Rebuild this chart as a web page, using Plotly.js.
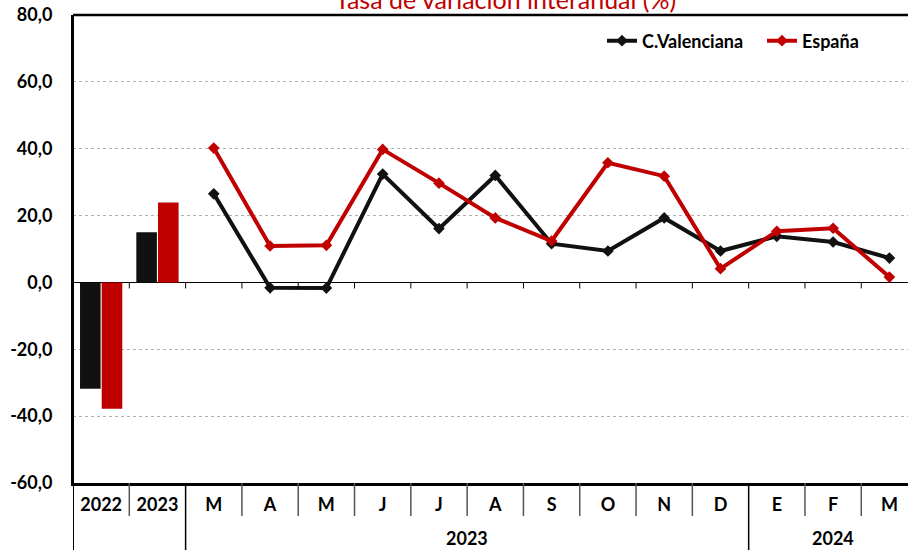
<!DOCTYPE html>
<html>
<head>
<meta charset="utf-8">
<script src="https://cdn.plot.ly/plotly-3.0.1.min.js"></script>
<style>html,body{margin:0;padding:0;background:#fff;}#chart{width:908px;height:554px;}</style>
</head>
<body>
<div id="chart"></div>
<script>
// Categories
const categories = ["2022","2023","M","A","M","J","J","A","S","O","N","D","E","F","M"];
// Annual bars (2022, 2023)
const barCategories = ["2022","2023"];
const barCV = [-31.8, 15.0];
const barES = [-37.8, 23.9];
// Monthly lines (M 2023 .. M 2024)
const monthCV = [26.5, -1.6, -1.7, 32.4, 16.1, 32.0, 11.6, 9.4, 19.3, 9.4, 13.8, 12.1, 7.3];
const monthES = [40.2, 10.9, 11.1, 39.8, 29.7, 19.3, 12.4, 35.8, 31.8, 4.1, 15.3, 16.2, 1.6];
// Year groups for the second row of the axis
const yearLabels = ["2023", "2024"];
const yearStart = [2, 12];
const yearEnd = [11, 14];
const yTicks = [-60, -40, -20, 0, 20, 40, 60, 80];
const yTickText = ["-60,0", "-40,0", "-20,0", "0,0", "20,0", "40,0", "60,0", "80,0"];

const seriesNames = ["C.Valenciana", "España"];
const colCV = "#111111", colES = "#c00000";
const FONT = "Lato, 'Open Sans', sans-serif";

const idx = categories.map((c, i) => i);
const barX = barCategories.map(c => categories.indexOf(c));
const lineX = monthCV.map((v, i) => i + barX.length);

const traces = [
  {type: "bar", x: barX, y: barCV, name: seriesNames[0], marker: {color: colCV}, showlegend: false, legendgroup: "cv", hoverinfo: "y"},
  {type: "bar", x: barX, y: barES, name: seriesNames[1], marker: {color: colES}, showlegend: false, legendgroup: "es", hoverinfo: "y"},
  {type: "scatter", mode: "lines+markers", x: lineX, y: monthCV, name: seriesNames[0], legendgroup: "cv", legend: "legend",
   line: {color: colCV, width: 4}, marker: {symbol: "diamond", size: 9, color: colCV}},
  {type: "scatter", mode: "lines+markers", x: lineX, y: monthES, name: seriesNames[1], legendgroup: "es", legend: "legend2",
   line: {color: colES, width: 4}, marker: {symbol: "diamond", size: 9, color: colES}}
];

const plotH = 554 - 15 - 71;
const xMax = 14.33;
const shapes = [];
// top border
shapes.push({type: "line", xref: "paper", yref: "paper", x0: 0, x1: 1, y0: 1, y1: 1, line: {color: "#000", width: 2.5}});
// left axis extended down
shapes.push({type: "line", xref: "x", yref: "paper", x0: -0.5, x1: -0.5, y0: 1, y1: -67 / plotH, line: {color: "#000", width: 2}});
for (let k = 1; k < categories.length; k++) {
  const b = k - 0.5;
  const long = yearStart.includes(k);
  shapes.push({type: "line", xref: "x", yref: "paper", x0: b, x1: b, y0: 0, y1: (long ? -67 : -33) / plotH,
    line: {color: long ? "#000" : "#555", width: 1.5}});
  // small ticks on the zero line
  shapes.push({type: "line", xref: "x", yref: "y", x0: b, x1: b, y0: 0, y1: -1.8, line: {color: "#000", width: 1}});
}

const annotations = yearLabels.map((t, i) => ({
  text: "<b>" + t + "</b>", xref: "x", yref: "paper", x: (yearStart[i] + yearEnd[i]) / 2, y: -55 / plotH,
  yanchor: "middle", showarrow: false, font: {family: FONT, size: 18, color: "#000"}
}));
annotations.push({
  text: "Tasa de variación interanual (%)", xref: "paper", yref: "paper", x: (505 - 73) / 835, y: 1 - 1 / plotH,
  xanchor: "center", yanchor: "bottom", showarrow: false, font: {family: FONT, size: 25, color: colES}
});

const legendBase = {orientation: "h", y: 1 - 26 / plotH, xanchor: "left", yanchor: "middle",
  font: {family: FONT, size: 18, color: "#000", weight: "bold"}, bgcolor: "rgba(0,0,0,0)", itemwidth: 30, tracegroupgap: 0};

const layout = {
  width: 908, height: 554,
  margin: {l: 73, r: 0, t: 15, b: 71},
  paper_bgcolor: "#fff", plot_bgcolor: "#fff",
  font: {family: FONT, color: "#000"},
  barmode: "group", bargap: 0.23, bargroupgap: 0.05,
  showlegend: true,
  legend: Object.assign({}, legendBase, {x: (602 - 73) / 835}),
  legend2: Object.assign({}, legendBase, {x: (762 - 73) / 835}),
  xaxis: {
    range: [-0.5, xMax], tickmode: "array", tickvals: idx, ticktext: categories.map(c => "<b>" + c + "</b>"),
    ticks: "", tickfont: {family: FONT, size: 18, color: "#000"}, showgrid: false, zeroline: false,
    showline: true, linecolor: "#000", linewidth: 2.5, ticklabelstandoff: 4, fixedrange: true
  },
  yaxis: {
    range: [-60, 80], tickmode: "array", tickvals: yTicks, ticktext: yTickText.map(t => "<b>" + t + "</b>"), ticks: "",
    tickfont: {family: FONT, size: 18, color: "#000"}, ticklabelstandoff: 15,
    showgrid: true, gridcolor: "#b0b0b0", griddash: "dot", gridwidth: 1,
    zeroline: true, zerolinecolor: "#000", zerolinewidth: 1.5,
    showline: true, linecolor: "#000", linewidth: 2, fixedrange: true
  },
  shapes: shapes, annotations: annotations
};

Plotly.newPlot("chart", traces, layout, {displayModeBar: false, staticPlot: true});
</script>
</body>
</html>
